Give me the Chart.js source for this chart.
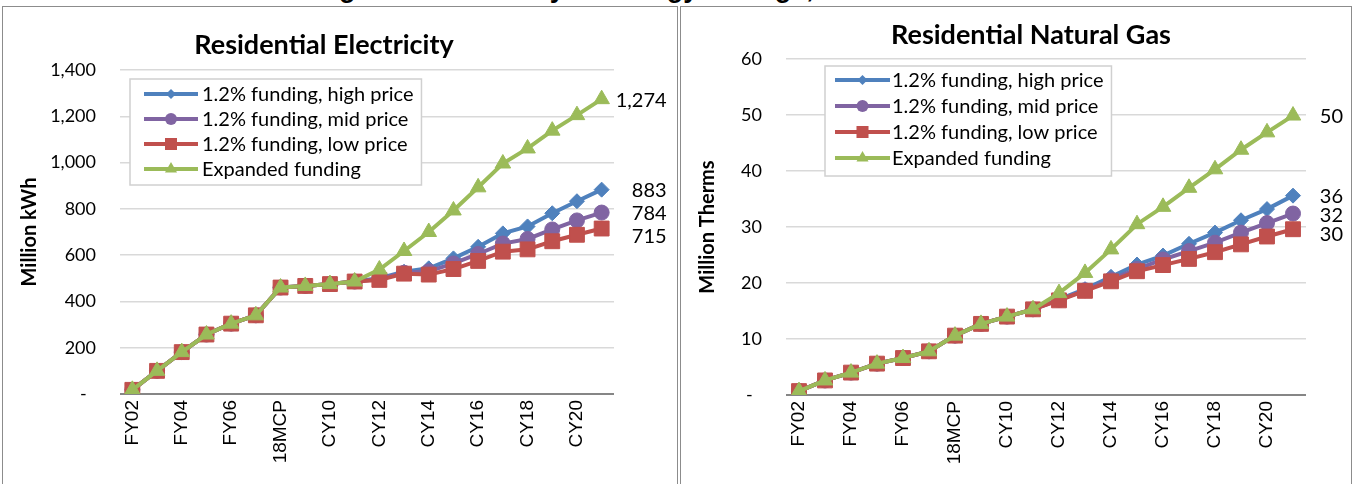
<!DOCTYPE html>
<html>
<head>
<meta charset="utf-8">
<script src="https://cdn.jsdelivr.net/npm/chart.js@4.4.1/dist/chart.umd.min.js"></script>
<style>
  html, body { margin: 0; padding: 0; background: #fff; width: 1353px; height: 484px; overflow: hidden; }
  .heading { position: absolute; left: 0; top: -27px; width: 1372px; text-align: center; white-space: nowrap;
             font: bold 27px "Liberation Sans", Arial, sans-serif; color: #000; }
  .frame { position: absolute; top: 6px; height: 500px; border: 1px solid #8c8c8c; box-sizing: border-box; background: #fff; }
  .box { position: absolute; top: 6px; }
</style>
</head>
<body>
<div class="heading">Figure 6: Annual cycle energy savings, Residential Sector</div>
<div class="frame" style="left:2px;width:676px"></div>
<div class="frame" style="left:680px;width:672px"></div>
<div class="box" style="left:2px"><canvas id="elec" width="675" height="478"></canvas></div>
<div class="box" style="left:680px"><canvas id="gas" width="672" height="478"></canvas></div>
<script>
// categories on the x axis
const categories = ['FY02','FY03','FY04','FY05','FY06','FY07','18MCP','CY09','CY10','CY11',
                    'CY12','CY13','CY14','CY15','CY16','CY17','CY18','CY19','CY20','CY21'];
const seriesNames = ['1.2% funding, high price', '1.2% funding, mid price', '1.2% funding, low price', 'Expanded funding'];

// Residential electricity, million kWh
const elecHigh     = [18, 100, 181, 257, 304, 340, 460, 467, 475, 486, 500, 528, 543, 586, 636, 694, 724, 781, 833, 883];
const elecMid      = [18, 100, 181, 257, 304, 340, 460, 467, 475, 486, 497, 524, 530, 564, 605, 650, 670, 711, 750, 784];
const elecLow      = [18, 100, 181, 257, 304, 340, 460, 467, 475, 486, 493, 520, 516, 540, 575, 615, 625, 660, 688, 715];
const elecExpanded = [18, 100, 181, 257, 304, 340, 460, 467, 475, 486, 538, 618, 700, 793, 893, 996, 1061, 1138, 1205, 1274];

// Residential natural gas, million therms
const gasHigh     = [0.7, 2.6, 4.0, 5.6, 6.6, 7.8, 10.6, 12.7, 14.0, 15.3, 17.1, 18.9, 21.1, 23.3, 24.9, 27.0, 29.0, 31.2, 33.2, 35.6];
const gasMid      = [0.7, 2.6, 4.0, 5.6, 6.6, 7.8, 10.6, 12.7, 14.0, 15.3, 17.0, 18.7, 20.6, 22.5, 24.2, 25.7, 27.2, 29.0, 30.7, 32.4];
const gasLow      = [0.7, 2.6, 4.0, 5.6, 6.6, 7.8, 10.6, 12.7, 14.0, 15.3, 16.9, 18.6, 20.3, 22.1, 23.2, 24.3, 25.5, 26.9, 28.3, 29.6];
const gasExpanded = [0.7, 2.6, 4.0, 5.6, 6.6, 7.8, 10.6, 12.7, 14.0, 15.3, 18.2, 21.8, 26.0, 30.5, 33.6, 37.0, 40.3, 43.8, 46.9, 49.9];

// look of each series (same order as seriesNames)
const looks = [
  { color: '#4F81BD', point: 'rectRot',  r: 7.5,  legendR: 5,   order: 3 },
  { color: '#8064A2', point: 'circle',   r: 7.5,  legendR: 6,   order: 2 },
  { color: '#C0504D', point: 'rect',     r: 10.5, legendR: 8.5, order: 1 },
  { color: '#9BBB59', point: 'triangle', r: 9,    legendR: 7,   order: 0 }
];

const BODY = 'Lato, "Open Sans", sans-serif';

function marker(ctx, style, r, x, y) {
  ctx.beginPath();
  if (style === 'circle') {
    ctx.arc(x, y, r, 0, Math.PI * 2);
  } else if (style === 'rect') {
    const s = r * Math.SQRT1_2;
    ctx.rect(x - s, y - s, 2 * s, 2 * s);
  } else if (style === 'rectRot') {
    ctx.moveTo(x, y - r); ctx.lineTo(x + r, y); ctx.lineTo(x, y + r); ctx.lineTo(x - r, y); ctx.closePath();
  } else {
    const a = Math.sin(Math.PI / 3) * r;
    ctx.moveTo(x, y - r); ctx.lineTo(x + a, y + r / 2); ctx.lineTo(x - a, y + r / 2); ctx.closePath();
  }
  ctx.fill();
}

// chart title drawn at a fixed spot
const panelTitle = {
  id: 'panelTitle',
  afterDraw(chart, args, o) {
    const ctx = chart.ctx;
    ctx.save();
    ctx.font = 'bold 27px ' + BODY;
    ctx.fillStyle = '#000';
    ctx.textAlign = 'center';
    ctx.textBaseline = 'middle';
    ctx.fillText(o.text, o.x, o.y);
    ctx.restore();
  }
};

// legend box inside the plot
const boxLegend = {
  id: 'boxLegend',
  afterDraw(chart, args, o) {
    const ctx = chart.ctx, area = chart.chartArea;
    ctx.save();
    ctx.font = '20px ' + BODY;
    let tw = 0;
    seriesNames.forEach(n => { tw = Math.max(tw, ctx.measureText(n).width); });
    const x0 = area.left + o.dx, y0 = area.top + o.dy;
    const w = o.textX + tw + 8, h = o.rowH * 4 + 6;
    ctx.fillStyle = '#fff';
    ctx.fillRect(x0, y0, w, h);
    ctx.strokeStyle = '#d0d0d0';
    ctx.lineWidth = 1.5;
    ctx.strokeRect(x0, y0, w, h);
    seriesNames.forEach((n, i) => {
      const y = y0 + o.firstRow + i * o.rowH;
      const lk = looks[i];
      ctx.strokeStyle = lk.color;
      ctx.fillStyle = lk.color;
      ctx.lineWidth = 4;
      ctx.beginPath();
      ctx.moveTo(x0 + o.lineFrom, y);
      ctx.lineTo(x0 + o.lineTo, y);
      ctx.stroke();
      marker(ctx, lk.point, lk.legendR, x0 + (o.lineFrom + o.lineTo) / 2, y);
      ctx.fillStyle = '#000';
      ctx.textBaseline = 'middle';
      ctx.textAlign = 'left';
      ctx.fillText(n, x0 + o.textX, y + 1);
    });
    ctx.restore();
  }
};

// value labels at the end of each line
const endLabels = {
  id: 'endLabels',
  afterDatasetsDraw(chart, args, o) {
    const ctx = chart.ctx;
    const items = chart.data.datasets.map((ds, i) => {
      const pts = chart.getDatasetMeta(i).data;
      const p = pts[pts.length - 1];
      return { text: Math.round(ds.data[ds.data.length - 1]).toLocaleString('en-US'), x: p.x + o.dx, y: p.y };
    }).sort((a, b) => a.y - b.y);
    for (let i = 1; i < items.length; i++) {
      if (items[i].y - items[i - 1].y < o.gap) items[i].y = items[i - 1].y + o.gap;
    }
    ctx.save();
    ctx.font = '20px ' + BODY;
    ctx.fillStyle = '#000';
    ctx.textAlign = 'right';
    ctx.textBaseline = 'middle';
    items.forEach(it => ctx.fillText(it.text, it.x, it.y + 1));
    ctx.restore();
  }
};

function makeChart(id, series, c) {
  return new Chart(document.getElementById(id), {
    type: 'line',
    data: {
      labels: categories,
      datasets: series.map((vals, i) => ({
        label: seriesNames[i],
        data: vals,
        order: looks[i].order,
        borderColor: looks[i].color,
        backgroundColor: looks[i].color,
        borderWidth: 4,
        pointStyle: looks[i].point,
        pointRadius: looks[i].r,
        pointBorderWidth: 1,
        pointBorderColor: looks[i].color,
        pointBackgroundColor: looks[i].color,
        tension: 0
      }))
    },
    options: {
      responsive: false,
      animation: false,
      layout: { padding: { top: c.top, right: c.right, left: 0, bottom: 0 } },
      plugins: {
        legend: { display: false },
        tooltip: { enabled: false },
        panelTitle: { text: c.title, x: c.titleX, y: c.titleY },
        boxLegend: c.legend,
        endLabels: { dx: c.labelDx, gap: c.labelGap }
      },
      scales: {
        x: {
          offset: true,
          grid: { display: false, drawTicks: false },
          border: { display: false },
          ticks: {
            autoSkip: false, maxRotation: 90, minRotation: 90, padding: 6, color: '#000',
            font: { family: '"Liberation Sans", Arial, sans-serif', size: 19 },
            callback: (v, i) => (i % 2 === 0 ? categories[i] : '')
          },
          afterFit: s => { s.height = c.xHeight; }
        },
        y: {
          min: 0, max: c.yMax,
          border: { display: false },
          grid: {
            drawTicks: false,
            color: ctx => (ctx.tick.value === 0 ? '#868686' : '#d9d9d9'),
            lineWidth: ctx => (ctx.tick.value === 0 ? 2 : 1.5)
          },
          ticks: {
            stepSize: c.yStep, padding: 24, color: '#000',
            font: { family: BODY, size: 18 },
            callback: v => (v === 0 ? '-  ' : v.toLocaleString('en-US'))
          },
          title: {
            display: true, text: c.yTitle, color: '#000',
            font: { family: BODY, size: 20, weight: 'bold' },
            padding: { top: 16, bottom: 0 }
          },
          afterFit: s => { s.width = c.yWidth; }
        }
      }
    },
    plugins: [panelTitle, boxLegend, endLabels]
  });
}

makeChart('elec', [elecHigh, elecMid, elecLow, elecExpanded], {
  title: 'Residential Electricity', titleX: 322, titleY: 39,
  yTitle: 'Million kWh', yMax: 1400, yStep: 200,
  top: 64, right: 63, yWidth: 118, xHeight: 90,
  labelDx: 65, labelGap: 23,
  legend: { dx: 10, dy: 9, rowH: 25, firstRow: 15, lineFrom: 14, lineTo: 68, textX: 72 }
});

makeChart('gas', [gasHigh, gasMid, gasLow, gasExpanded], {
  title: 'Residential Natural Gas', titleX: 351, titleY: 29,
  yTitle: 'Million Therms', yMax: 60, yStep: 10,
  top: 53, right: 46, yWidth: 106, xHeight: 89,
  labelDx: 50, labelGap: 19,
  legend: { dx: 39, dy: 7, rowH: 26, firstRow: 14, lineFrom: 10, lineTo: 65, textX: 67 }
});
</script>
</body>
</html>
